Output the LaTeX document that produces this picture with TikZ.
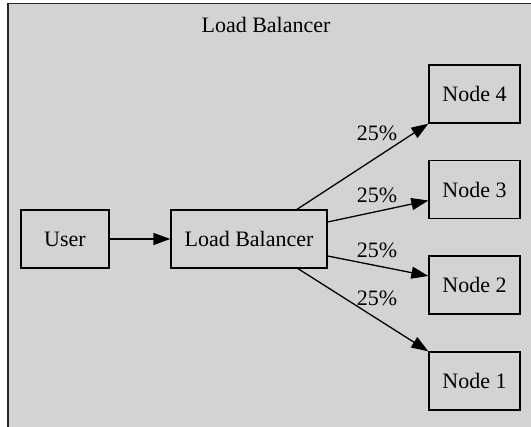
\documentclass[tikz,border=0pt]{standalone}
\usepackage{fontspec}
\setmainfont{Liberation Serif}
\usetikzlibrary{arrows.meta,calc}
\definecolor{clusterfill}{HTML}{D3D3D3}
\tikzset{
  box/.style={draw=black, line width=1.3pt, rectangle, inner sep=0pt,
              minimum height=58pt, font=\fontsize{22}{26}\selectfont},
  link/.style={line width=1.3pt, -{Triangle[length=17pt,width=12pt]}},
  pct/.style={font=\fontsize{22}{26}\selectfont, inner sep=0pt},
}
\begin{document}
\begin{tikzpicture}[x=1pt,y=-1pt]
  \useasboundingbox (0,0) rectangle (531,427);
  \begin{scope}
    \clip (0,0) rectangle (531,427);
    % cluster background
    \fill[white] (0,0) rectangle (531,427);
    \draw[fill=clusterfill, draw=black!85, line width=1.8pt] (8,3.5) rectangle (540,432);
  \end{scope}
  \node[pct] (title) at (266,25) {Load Balancer};

  % nodes
  \node[box, minimum width=88pt] (user) at (65,239) {User};
  \node[box, minimum width=156pt] (lb) at (249,239) {Load Balancer};
  \node[box, minimum width=91pt] (n4) at (474.5,94) {Node 4};
  \node[box, minimum width=91pt] (n3) at (474.5,189.5) {Node 3};
  \node[box, minimum width=91pt] (n2) at (474.5,285) {Node 2};
  \node[box, minimum width=91pt] (n1) at (474.5,381) {Node 1};

  % connectors
  \draw[link] (user) -- (lb);
  \draw[link] ($(lb.north)+(48,0)$) -- (n4.south west);
  \draw[link] ($(lb.east)+(0,-17)$) -- ($(n3.west)+(0,11)$);
  \draw[link] ($(lb.east)+(0,17)$) -- ($(n2.west)+(0,-9)$);
  \draw[link] ($(lb.south)+(49,0)$) -- (n1.north west);

  % edge labels
  \node[pct] (l4) at (377,133) {25\%};
  \node[pct] (l3) at (377,195) {25\%};
  \node[pct] (l2) at (377,250) {25\%};
  \node[pct] (l1) at (377,298) {25\%};
\end{tikzpicture}
\end{document}
